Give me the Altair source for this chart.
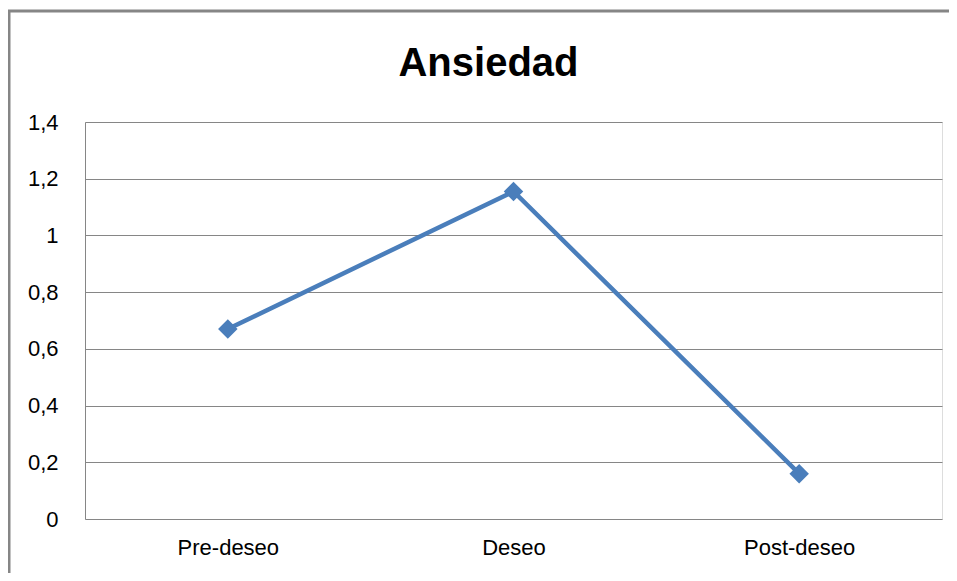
import altair as alt
import pandas as pd

title_text = ["Ansiedad"]
categories = ["Pre-deseo", "Deseo", "Post-deseo"]
values = [0.67, 1.155, 0.16]
y_ticks = [0, 0.2, 0.4, 0.6, 0.8, 1.0, 1.2, 1.4]

df = pd.DataFrame({"fase": categories, "valor": values})

W, H = 857, 397
PAD = {"left": 77, "top": 114, "right": 7, "bottom": 54}

x_enc = alt.X("fase:N", sort=categories, title=None,
              scale=alt.Scale(paddingInner=0, paddingOuter=0.5, padding=0.5),
              axis=alt.Axis(labelAngle=0, ticks=False, domain=False, grid=False,
                            labelFont="Liberation Sans", labelFontSize=22,
                            labelColor="#000000", labelPadding=18))
y_enc = alt.Y("valor:Q", title=None,
              scale=alt.Scale(domain=[0, 1.4], nice=False, zero=True),
              axis=alt.Axis(values=y_ticks, ticks=False,
                            labelExpr="replace(format(datum.value, '.1~f'), '.', ',')",
                            labelFont="Liberation Sans", labelFontSize=22,
                            labelColor="#000000", labelPadding=27,
                            domain=True, domainColor="#868686", domainWidth=1,
                            grid=True, gridColor="#868686", gridWidth=1.2))

line = alt.Chart(df).mark_line(color="#4a7ebb", strokeWidth=4.5).encode(x=x_enc, y=y_enc)
pts = alt.Chart(df).mark_point(shape="diamond", filled=True, size=380,
                               color="#4a7ebb", opacity=1).encode(x=x_enc, y=y_enc)

border = alt.Chart(pd.DataFrame({"a": [0]})).mark_rect(
    fill=None, stroke="#868686", strokeWidth=3
).encode(x=alt.value(-76), x2=alt.value(W + 60), y=alt.value(-111), y2=alt.value(H + 80))

title = alt.Chart(pd.DataFrame({"t": title_text})).mark_text(
    font="Liberation Sans", fontSize=40, fontWeight="bold", color="#000000",
    align="center", baseline="alphabetic"
).encode(text="t:N", x=alt.value(403.5), y=alt.value(-46))

chart = alt.layer(border, title, line, pts).properties(
    width=W, height=H,
    autosize=alt.AutoSizeParams(type="none"),
    padding=PAD,
).configure_view(stroke=None).configure(background="#ffffff")

chart.save("out.html", embed_options={"renderer": "svg", "actions": False})
